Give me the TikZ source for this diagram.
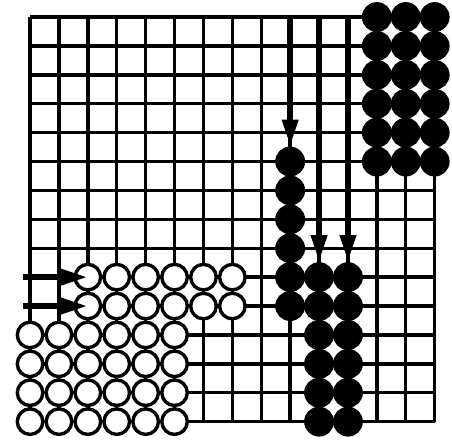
\documentclass[tikz,border=0pt]{standalone}
\usetikzlibrary{arrows.meta}

\begin{document}
\begin{tikzpicture}[>={Triangle[length=16pt, width=9pt]}, xscale=0.6, yscale=0.6,
    blanca/.style={circle, draw, line width=2pt, fill=white, inner sep=0pt, minimum size=0.53cm},
    negra/.style={circle, draw, line width=2pt, fill=black, inner sep=0pt, minimum size=0.55cm},
    flecha/.style={->, line width=3.5pt}]
  \useasboundingbox (-1.04,-0.62) rectangle (14.60,14.59);

  % Cuadricula
  \draw[line width=2pt] (0,0) grid (14,14);

  % Fichas negras (arriba a la derecha)
  \foreach \x in {12,13,14}
    \foreach \y in {9,...,14}
      \node[negra] (n-\x-\y) at (\x,\y) {};

  % Columna negra central
  \foreach \y in {4,...,9}
    \node[negra] (n-9-\y) at (9,\y) {};

  % Dos columnas negras abajo
  \foreach \x in {10,11}
    \foreach \y in {0,...,5}
      \node[negra] (n-\x-\y) at (\x,\y) {};

  % Fichas blancas
  \foreach \x in {2,...,7}
    \foreach \y in {4,5}
      \node[blanca] (b-\x-\y) at (\x,\y) {};
  \foreach \x in {0,...,5}
    \foreach \y in {0,...,3}
      \node[blanca] (b-\x-\y) at (\x,\y) {};

  % Flechas verticales
  \coordinate (s9)  at (9,14.08);
  \coordinate (s10) at (10,14.08);
  \coordinate (s11) at (11,14.08);
  \draw[flecha] (s9)  -- (n-9-9.north);
  \draw[flecha] (s10) -- (n-10-5.north);
  \draw[flecha] (s11) -- (n-11-5.north);

  % Flechas horizontales
  \coordinate (h5) at (-0.25,5);
  \coordinate (h4) at (-0.25,4);
  \draw[flecha] (h5) -- (b-2-5.center);
  \draw[flecha] (h4) -- (b-2-4.center);
\end{tikzpicture}
\end{document}
